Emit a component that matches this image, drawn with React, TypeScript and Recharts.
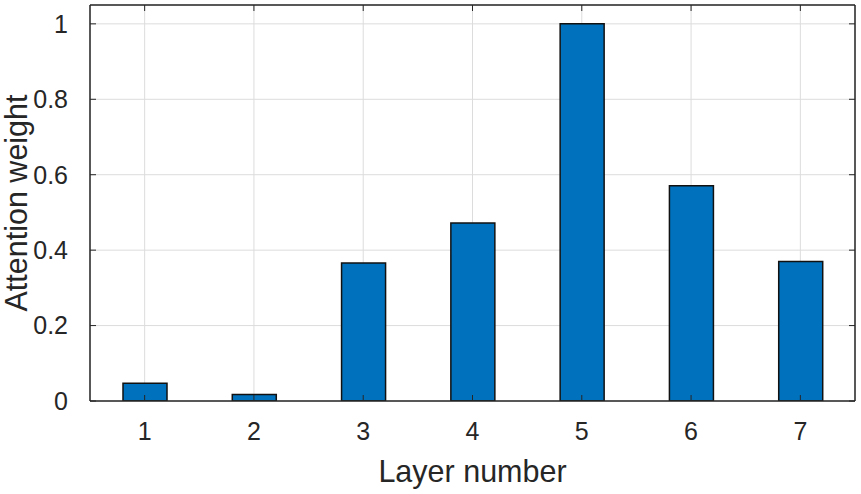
import { BarChart, Bar, XAxis, YAxis, CartesianGrid } from 'recharts';

const layers = ['1', '2', '3', '4', '5', '6', '7'];
const weights = [0.047, 0.017, 0.366, 0.472, 1.0, 0.571, 0.37];
const yTicks = [0, 0.2, 0.4, 0.6, 0.8, 1];

const data = layers.map((layer, i) => ({ layer, weight: weights[i] }));

const AXIS = '#262626';
const FONT = '"Liberation Sans", Arial, Helvetica, sans-serif';
const W = 861;
const H = 494;
const M = { top: 5, right: 6, left: 0, bottom: 0 };
const TICK_SIZE = 6;
const X_MARGIN = 15;
const Y_MARGIN = 16;
const IN = 6; // inward tick length

// x tick: label plus inward tick marks at bottom and top of the box
const XTick = (props: any) => {
  const { x, y, payload } = props;
  const base = y - TICK_SIZE - X_MARGIN;
  return (
    <g>
      <line x1={x} x2={x} y1={base} y2={base - IN} stroke={AXIS} strokeWidth={1} />
      <line x1={x} x2={x} y1={M.top} y2={M.top + IN} stroke={AXIS} strokeWidth={1} />
      <text x={x} y={y} dy="0.71em" textAnchor="middle" fill={AXIS} fontSize={25}>
        {payload.value}
      </text>
    </g>
  );
};

// y tick: label plus inward tick marks at left and right of the box
const YTick = (props: any) => {
  const { x, y, payload } = props;
  const base = x + TICK_SIZE + Y_MARGIN;
  const right = W - M.right;
  return (
    <g>
      <line x1={base} x2={base + IN} y1={y} y2={y} stroke={AXIS} strokeWidth={1} />
      <line x1={right} x2={right - IN} y1={y} y2={y} stroke={AXIS} strokeWidth={1} />
      <text x={x} y={y} dy="0.355em" textAnchor="end" fill={AXIS} fontSize={25}>
        {payload.value}
      </text>
    </g>
  );
};

const YTitle = (props: any) => {
  const vb = props.viewBox || {};
  const cx = 27;
  const cy = (vb.y ?? 0) + (vb.height ?? 0) / 2;
  return (
    <text x={cx} y={cy} transform={`rotate(-90 ${cx} ${cy})`} textAnchor="middle" fill={AXIS} fontSize={30.5}>
      Attention weight
    </text>
  );
};

const XTitle = (props: any) => {
  const vb = props.viewBox || {};
  const cx = (vb.x ?? 0) + (vb.width ?? 0) / 2;
  return (
    <text x={cx} y={482} textAnchor="middle" fill={AXIS} fontSize={30.5}>
      Layer number
    </text>
  );
};

export default function App() {
  return (
    <div style={{ position: 'absolute', left: 0, top: 0, background: '#fff' }}>
      <BarChart
        width={W}
        height={H}
        data={data}
        margin={M}
        barCategoryGap={0}
        style={{ fontFamily: FONT }}
      >
        <CartesianGrid stroke="#dcdcdc" strokeWidth={1} />
        <XAxis xAxisId="top" dataKey="layer" orientation="top" mirror tick={false} tickLine={false} stroke={AXIS} strokeWidth={1.5} />
        <YAxis yAxisId="right" type="number" domain={[0, 1.05]} ticks={yTicks} orientation="right" mirror tick={false} tickLine={false} stroke={AXIS} strokeWidth={1.5} />
        <Bar dataKey="weight" fill="#0072BD" stroke="#111" strokeWidth={1.5} barSize={44} isAnimationActive={false} />
        <XAxis
          dataKey="layer"
          height={93}
          stroke={AXIS}
          strokeWidth={1.5}
          tickLine={false}
          tickSize={TICK_SIZE}
          tickMargin={X_MARGIN}
          tick={<XTick />}
          label={<XTitle />}
        />
        <YAxis
          type="number"
          domain={[0, 1.05]}
          ticks={yTicks}
          width={90}
          stroke={AXIS}
          strokeWidth={1.5}
          tickLine={false}
          tickSize={TICK_SIZE}
          tickMargin={Y_MARGIN}
          allowDataOverflow
          tick={<YTick />}
          label={<YTitle />}
        />
      </BarChart>
    </div>
  );
}
